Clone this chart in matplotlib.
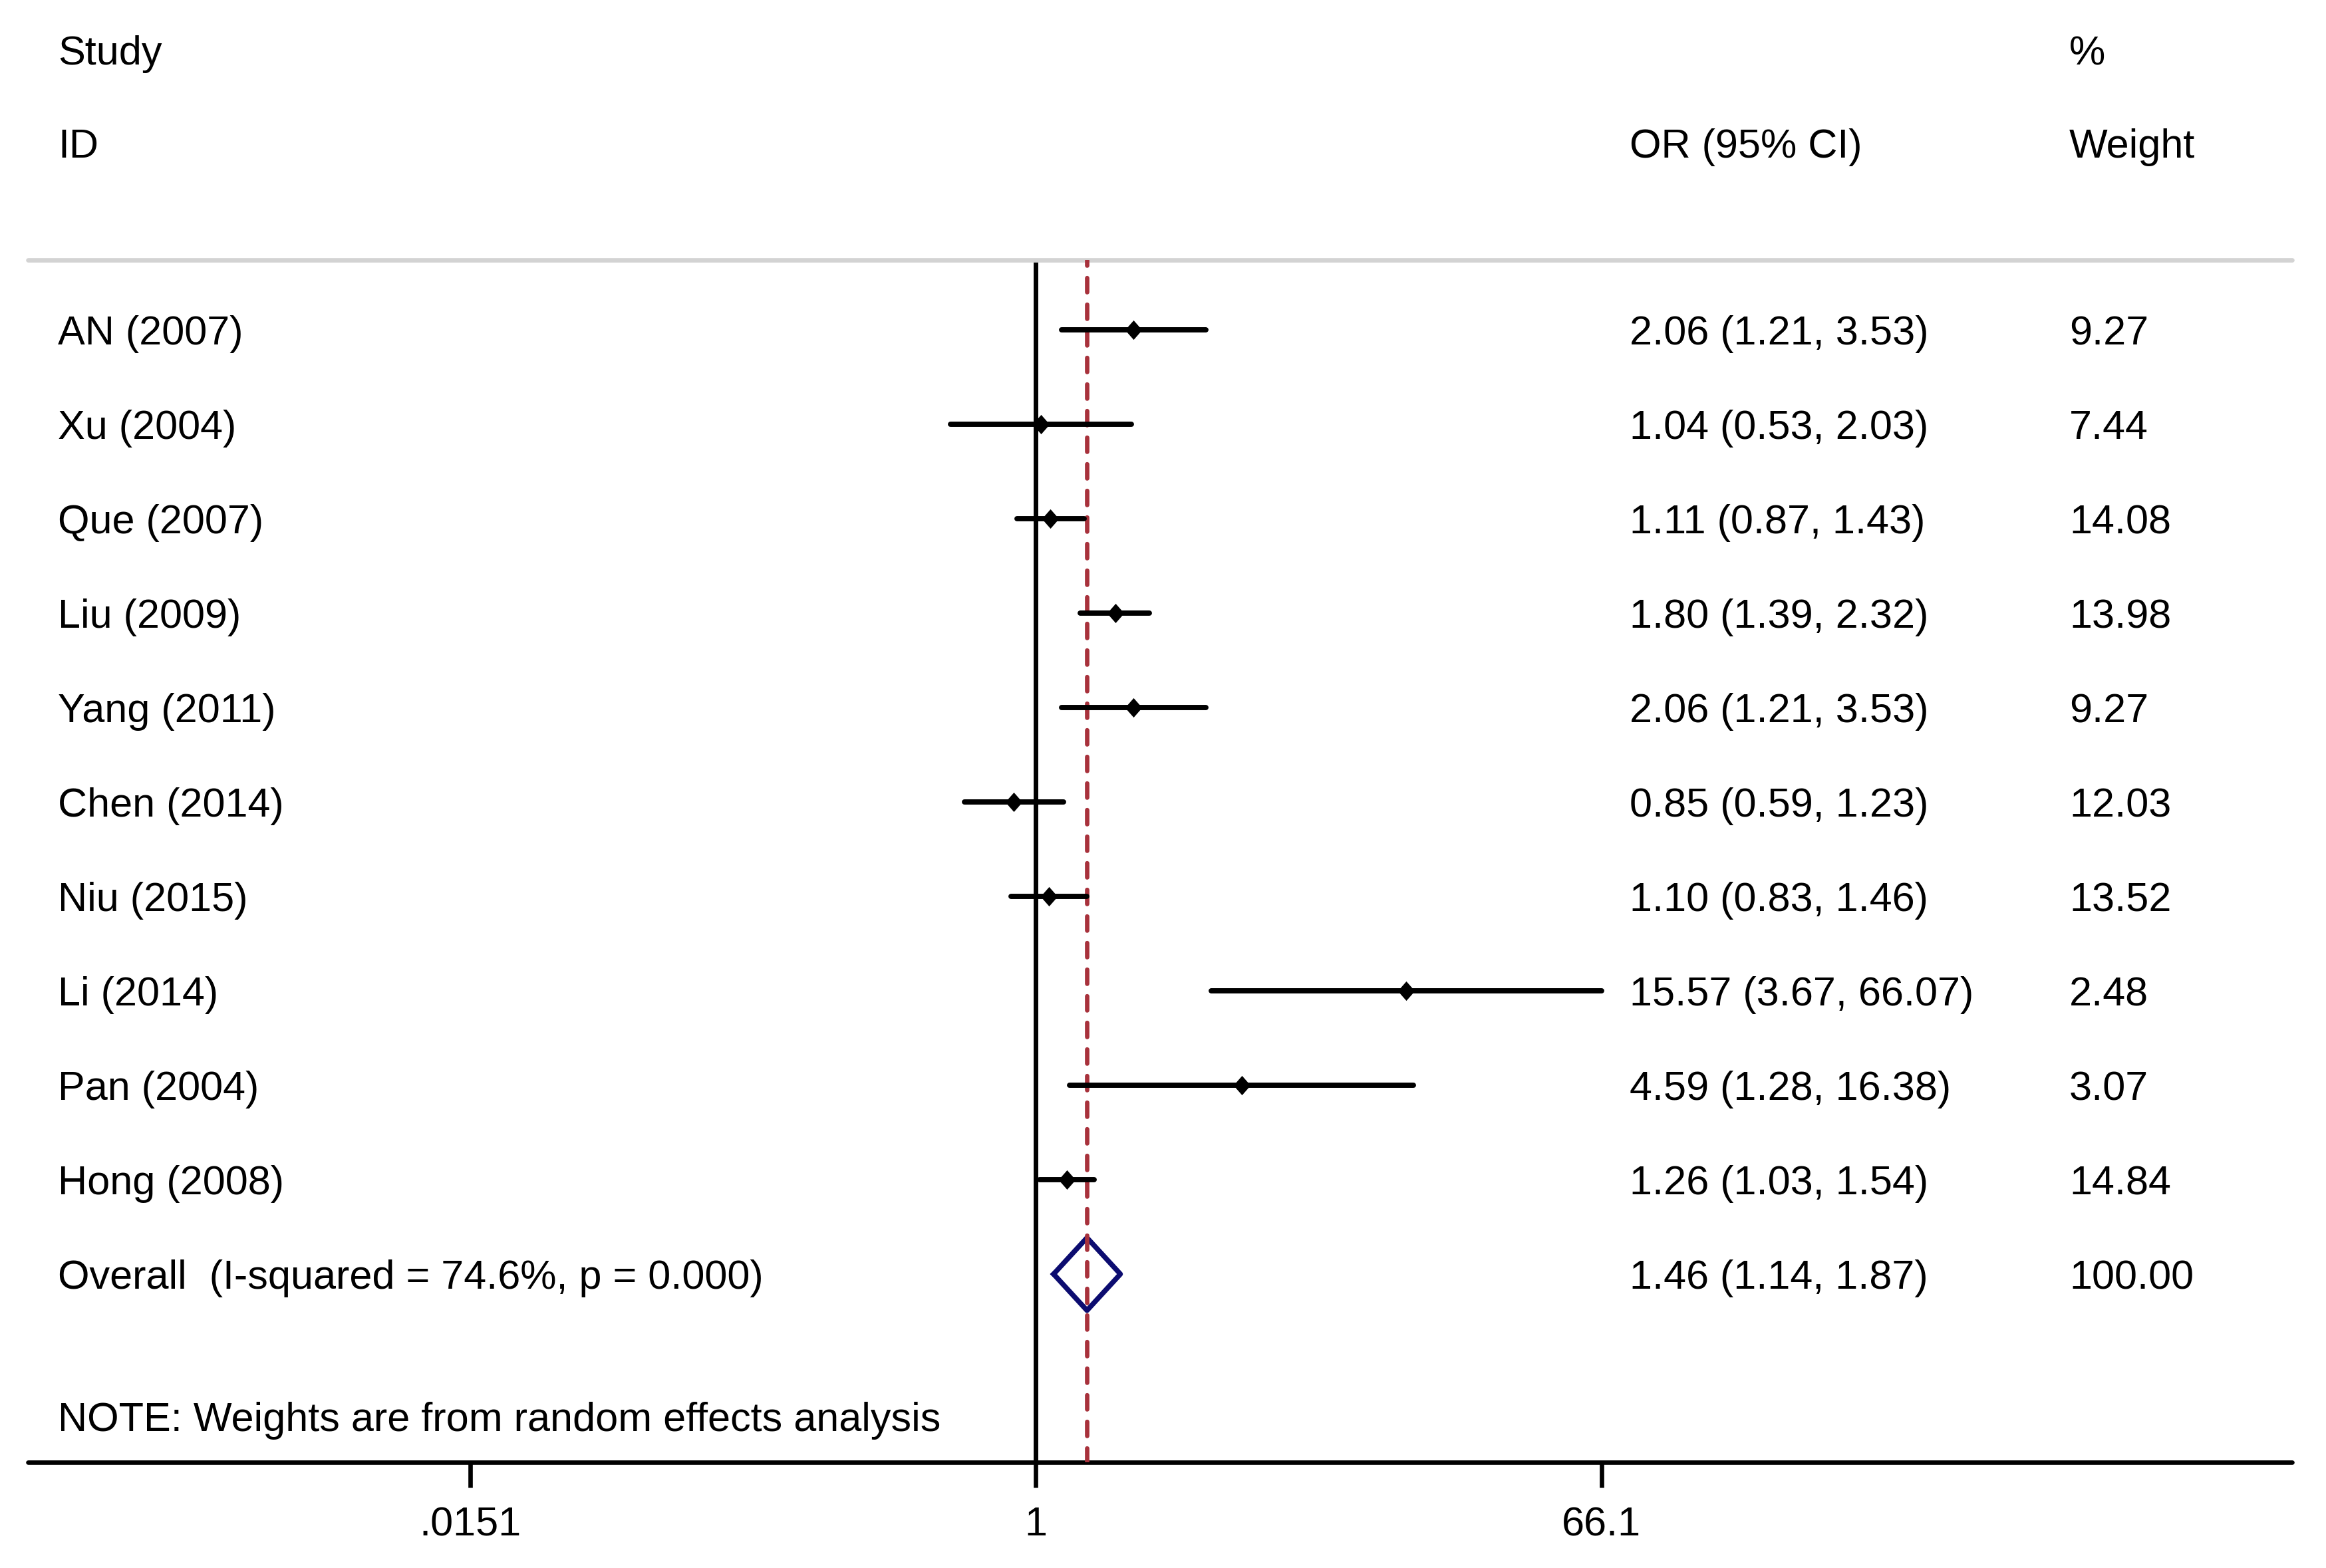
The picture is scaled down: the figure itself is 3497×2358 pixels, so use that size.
import matplotlib.pyplot as plt
import matplotlib.transforms as mtransforms
import numpy as np

# Study-level odds ratios with 95% CI and random-effects weights
studies = ["AN (2007)", "Xu (2004)", "Que (2007)", "Liu (2009)", "Yang (2011)",
           "Chen (2014)", "Niu (2015)", "Li (2014)", "Pan (2004)", "Hong (2008)"]
odds = [2.06, 1.04, 1.11, 1.80, 2.06, 0.85, 1.10, 15.57, 4.59, 1.26]
ci_low = [1.21, 0.53, 0.87, 1.39, 1.21, 0.59, 0.83, 3.67, 1.28, 1.03]
ci_high = [3.53, 2.03, 1.43, 2.32, 3.53, 1.23, 1.46, 66.07, 16.38, 1.54]
weights = [9.27, 7.44, 14.08, 13.98, 9.27, 12.03, 13.52, 2.48, 3.07, 14.84]

overall_label = "Overall  (I-squared = 74.6%, p = 0.000)"
overall_or = 1.46
overall_low = 1.14
overall_high = 1.87
overall_weight = 100.00

note = "NOTE: Weights are from random effects analysis"

tick_values = [1 / 66.07, 1, 66.07]
tick_labels = [".0151", "1", "66.1"]

plt.rcParams['font.family'] = ['Liberation Sans', 'DejaVu Sans']
FS = 44

fig = plt.figure(figsize=(34.97, 23.58), dpi=100)
ax = fig.add_axes([0.01201, 0.06731, 0.97341, 0.76666])

ax.set_xscale('log')
ax.set_xlim(np.exp(-7.469), np.exp(9.308))
ax.set_ylim(11.995, -0.736)

n = len(studies)
rows = np.arange(n)

# reference lines (no effect + overall estimate)
ax.axvline(1, color='black', lw=5, zorder=2)
ax.axvline(overall_or, color='#a8323c', lw=4.8, ls=(0, (3.2, 2.8)),
           dash_capstyle='round', zorder=3)

# confidence intervals and point estimates
for i in range(n):
    ax.plot([ci_low[i], ci_high[i]], [rows[i], rows[i]], color='black',
            lw=5.7, solid_capstyle='round', zorder=4)
diamond_marker = [(0, 1), (0.88, 0), (0, -1), (-0.88, 0), (0, 1)]
ax.plot(odds, rows, ls='none', marker=diamond_marker, ms=21, mew=0,
        color='black', zorder=5)

# pooled estimate diamond
yo = n
h = 0.385
ax.plot([overall_low, overall_or, overall_high, overall_or, overall_low],
        [yo, yo - h, yo, yo + h, yo], color='#0c0c70', lw=5.5,
        solid_joinstyle='round', zorder=2)

# text columns: figure x, data y; baseline sits a bit below row centre
tr = mtransforms.blended_transform_factory(fig.transFigure, ax.transData)
x_study, x_or, x_wt = 0.02488, 0.7006, 0.8896
off = 0.155
for i in range(n):
    ax.text(x_study, rows[i] + off, studies[i], transform=tr, fontsize=FS, va='baseline')
    ax.text(x_or, rows[i] + off, f"{odds[i]:.2f} ({ci_low[i]:.2f}, {ci_high[i]:.2f})",
            transform=tr, fontsize=FS, va='baseline')
    ax.text(x_wt, rows[i] + off, f"{weights[i]:.2f}", transform=tr, fontsize=FS, va='baseline')

ax.text(x_study, yo + off, overall_label, transform=tr, fontsize=FS, va='baseline')
ax.text(x_or, yo + off, f"{overall_or:.2f} ({overall_low:.2f}, {overall_high:.2f})",
        transform=tr, fontsize=FS, va='baseline')
ax.text(x_wt, yo + off, f"{overall_weight:.2f}", transform=tr, fontsize=FS, va='baseline')
ax.text(x_study, 11.51 + off, note, transform=tr, fontsize=FS, va='baseline')

# column headers
fig.text(x_study, 0.95886, "Study", fontsize=FS, va='baseline')
fig.text(x_study, 0.89949, "ID", fontsize=FS, va='baseline')
fig.text(x_or, 0.89949, "OR (95% CI)", fontsize=FS, va='baseline')
fig.text(x_wt, 0.95886, "%", fontsize=FS, va='baseline')
fig.text(x_wt, 0.89949, "Weight", fontsize=FS, va='baseline')

# axes styling
for s in ['left', 'right']:
    ax.spines[s].set_visible(False)
ax.spines['top'].set_color('#d3d3d3')
ax.spines['top'].set_linewidth(4.8)
ax.spines['top'].set_capstyle('round')
ax.spines['bottom'].set_linewidth(4.8)
ax.spines['bottom'].set_capstyle('round')
ax.set_yticks([])
ax.minorticks_off()
ax.set_xticks(tick_values)
ax.set_xticklabels(tick_labels)
ax.tick_params(axis='x', which='major', length=27.5, width=4.8, pad=20, labelsize=FS)
ax.tick_params(axis='x', which='minor', length=0)

fig.savefig('out.png', dpi=100)
